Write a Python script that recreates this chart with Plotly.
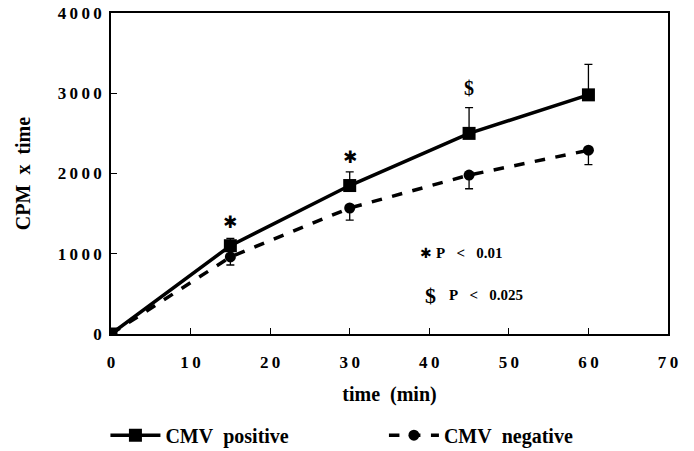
import plotly.graph_objects as go

time_min = [0, 15, 30, 45, 60]
cmv_pos = [0, 1100, 1850, 2500, 2980]
cmv_pos_err = [0, 90, 170, 320, 380]
cmv_neg = [0, 960, 1570, 1980, 2290]
cmv_neg_err = [0, 100, 150, 170, 180]

sig_x = [15, 30, 45]
sig_y = [1390, 2200, 3070]
sig_marks = ["✱", "✱", "$"]

x_ticks = [0, 10, 20, 30, 40, 50, 60, 70]
y_ticks = [0, 1000, 2000, 3000, 4000]

SERIF = "Liberation Serif, Times New Roman, serif"
THIN = "\u2009"
NB = "\u00a0"


def spaced(v):
    return THIN.join(str(v))


fig = go.Figure()
fig.add_trace(go.Scatter(
    x=time_min, y=cmv_pos, name="CMV" + NB * 2 + "positive", mode="lines+markers",
    line=dict(color="black", width=3.5),
    marker=dict(symbol="square", size=13, color="black"),
    error_y=dict(type="data", array=cmv_pos_err, arrayminus=[0]*5, symmetric=False,
                 color="black", thickness=1.3, width=4),
    legend="legend",
))
fig.add_trace(go.Scatter(
    x=time_min, y=cmv_neg, name="CMV" + NB * 2 + "negative", mode="lines+markers",
    line=dict(color="black", width=3.5, dash="dash"),
    marker=dict(symbol="circle", size=11, color="black"),
    error_y=dict(type="data", array=[0]*5, arrayminus=cmv_neg_err, symmetric=False,
                 color="black", thickness=1.3, width=4),
    legend="legend2",
))

for xv, yv, m in zip(sig_x, sig_y, sig_marks):
    fig.add_annotation(x=xv, y=yv, text=m, showarrow=False,
                       font=dict(family=SERIF if m == "$" else "DejaVu Sans", size=20 if m == "$" else 17,
                                 color="black", weight="bold"))

fig.add_annotation(x=39.6, y=1010, text="✱", showarrow=False, xanchor="center",
                   font=dict(family="DejaVu Sans", size=14, color="black", weight="bold"))
fig.add_annotation(x=40.6, y=1010, text="P" + NB * 3 + "<" + NB * 3 + "0.01", showarrow=False, xanchor="left",
                   font=dict(family=SERIF, size=15, color="black", weight="bold"))
fig.add_annotation(x=40.2, y=480, text="$", showarrow=False, xanchor="center",
                   font=dict(family=SERIF, size=22, color="black", weight="bold"))
fig.add_annotation(x=42.2, y=480, text="P" + NB * 3 + "<" + NB * 3 + "0.025", showarrow=False, xanchor="left",
                   font=dict(family=SERIF, size=15, color="black", weight="bold"))

axis_common = dict(showline=True, linecolor="black", linewidth=1.5, mirror=True,
                   ticks="inside", ticklen=6, tickcolor="black", showgrid=False,
                   zeroline=False,
                   tickfont=dict(family=SERIF, size=17, color="black", weight="bold"))

fig.update_xaxes(range=[0, 70], tickvals=x_ticks, ticktext=[spaced(v) for v in x_ticks],
                 ticklabelstandoff=12,
                 title=dict(text="time" + NB * 2 + "(min)", font=dict(family=SERIF, size=20, color="black", weight="bold"),
                            standoff=16),
                 **axis_common)
fig.update_yaxes(range=[0, 4000], tickvals=y_ticks, ticktext=[spaced(v) for v in y_ticks],
                 ticklabelstandoff=4,
                 title=dict(text="CPM" + NB * 2 + "x" + NB * 2 + "time", font=dict(family=SERIF, size=20, color="black", weight="bold"),
                            standoff=22),
                 **axis_common)

legend_font = dict(family=SERIF, size=20, color="black", weight="bold")
fig.update_layout(
    width=694, height=451,
    margin=dict(l=111, r=26, t=13, b=117, autoexpand=False),
    paper_bgcolor="white", plot_bgcolor="white",
    showlegend=True,
    legend=dict(orientation="h", x=-0.01, y=0.035, xref="paper", yref="container",
                xanchor="left", yanchor="middle", font=legend_font, itemwidth=50),
    legend2=dict(orientation="h", x=0.49, y=0.035, xref="paper", yref="container",
                 xanchor="left", yanchor="middle", font=legend_font, itemwidth=50),
)

fig.write_html("out.html", config={"displayModeBar": False},
               post_script="document.body.style.margin='0';document.body.style.padding='0';")
